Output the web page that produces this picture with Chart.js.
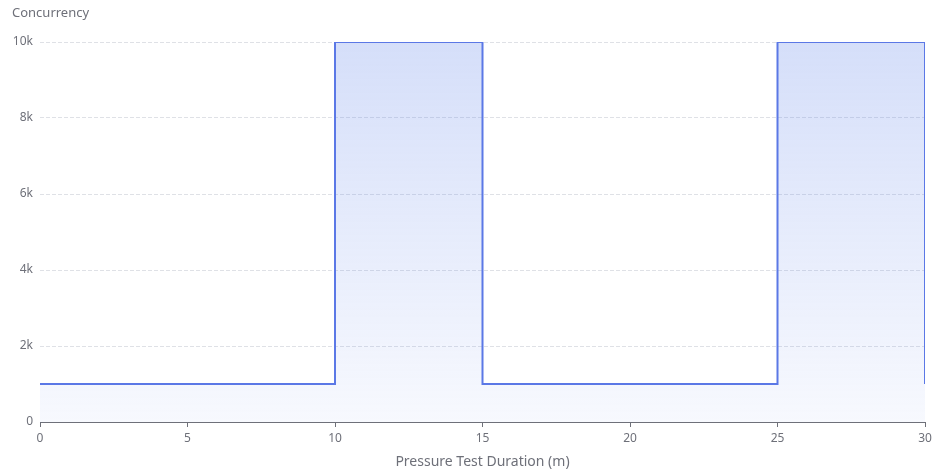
<!DOCTYPE html>
<html>
<head>
<meta charset="utf-8">
<script src="https://cdn.jsdelivr.net/npm/chart.js@4/dist/chart.umd.min.js"></script>
<style>
  html, body { margin: 0; padding: 0; background: #fff; }
  #wrap { width: 932px; height: 470px; position: relative; }
</style>
</head>
<body>
<div id="wrap"><canvas id="chart"></canvas></div>
<script>
// step points: minutes -> concurrency
var minutes     = [0, 10, 15, 25, 30];
var concurrency = [1000, 10000, 1000, 10000, 1000];
var yTicks      = [0, 2000, 4000, 6000, 8000, 10000];
var xTicks      = [0, 5, 10, 15, 20, 25, 30];

var GRAY = '#6E7079';
var FONT = '"Microsoft YaHei", "Noto Sans", "Open Sans", sans-serif';

// y axis name drawn top-left like the original
var yName = {
  id: 'yName',
  afterDraw: function(chart) {
    var ctx = chart.ctx;
    ctx.save();
    ctx.font = '13px ' + FONT;
    ctx.fillStyle = GRAY;
    ctx.textBaseline = 'middle';
    ctx.textAlign = 'left';
    ctx.fillText('Concurrency', 12, 13);
    ctx.restore();
  }
};

function fillGradient(context) {
  var area = context.chart.chartArea;
  if (!area) return 'rgba(91,120,230,0.2)';
  var yTop = context.chart.scales.y.getPixelForValue(10000);
  var g = context.chart.ctx.createLinearGradient(0, yTop, 0, area.bottom);
  g.addColorStop(0, 'rgba(100,135,235,0.27)');
  g.addColorStop(1, 'rgba(100,135,235,0.05)');
  return g;
}

new Chart(document.getElementById('chart'), {
  type: 'line',
  data: {
    datasets: [{
      data: minutes.map(function(m, i) { return { x: m, y: concurrency[i] }; }),
      stepped: 'before',
      borderColor: '#5b78e6',
      borderWidth: 2,
      pointRadius: 0,
      fill: 'origin',
      backgroundColor: fillGradient
    }]
  },
  plugins: [yName],
  options: {
    responsive: true,
    maintainAspectRatio: false,
    animation: false,
    layout: { padding: { top: 42, right: 7, left: 0, bottom: 0 } },
    plugins: { legend: { display: false }, tooltip: { enabled: false } },
    scales: {
      x: {
        type: 'linear',
        min: 0, max: 30,
        afterBuildTicks: function(s) { s.ticks = xTicks.map(function(v) { return { value: v }; }); },
        afterFit: function(s) { s.height = 48; s.paddingLeft = 0; s.paddingRight = 0; },
        grid: { display: true, drawOnChartArea: false, color: GRAY, tickLength: 5 },
        border: { display: true, color: GRAY, width: 1 },
        ticks: { color: GRAY, font: { family: FONT, size: 12 }, padding: 4, maxRotation: 0 },
        title: { display: true, text: 'Pressure Test Duration (m)', color: GRAY, font: { family: FONT, size: 14 }, padding: { top: 6, bottom: 0 } }
      },
      y: {
        min: 0, max: 10000,
        afterBuildTicks: function(s) { s.ticks = yTicks.map(function(v) { return { value: v }; }); },
        afterFit: function(s) { s.width = 40; s.paddingTop = 0; s.paddingBottom = 0; },
        grid: { color: '#DFE1E6', drawTicks: false },
        border: { display: false, dash: [4, 2] },
        ticks: {
          color: GRAY, font: { family: FONT, size: 12 }, padding: 7,
          callback: function(v) { return v === 0 ? '0' : (v / 1000) + 'k'; }
        }
      }
    }
  }
});
</script>
</body>
</html>
